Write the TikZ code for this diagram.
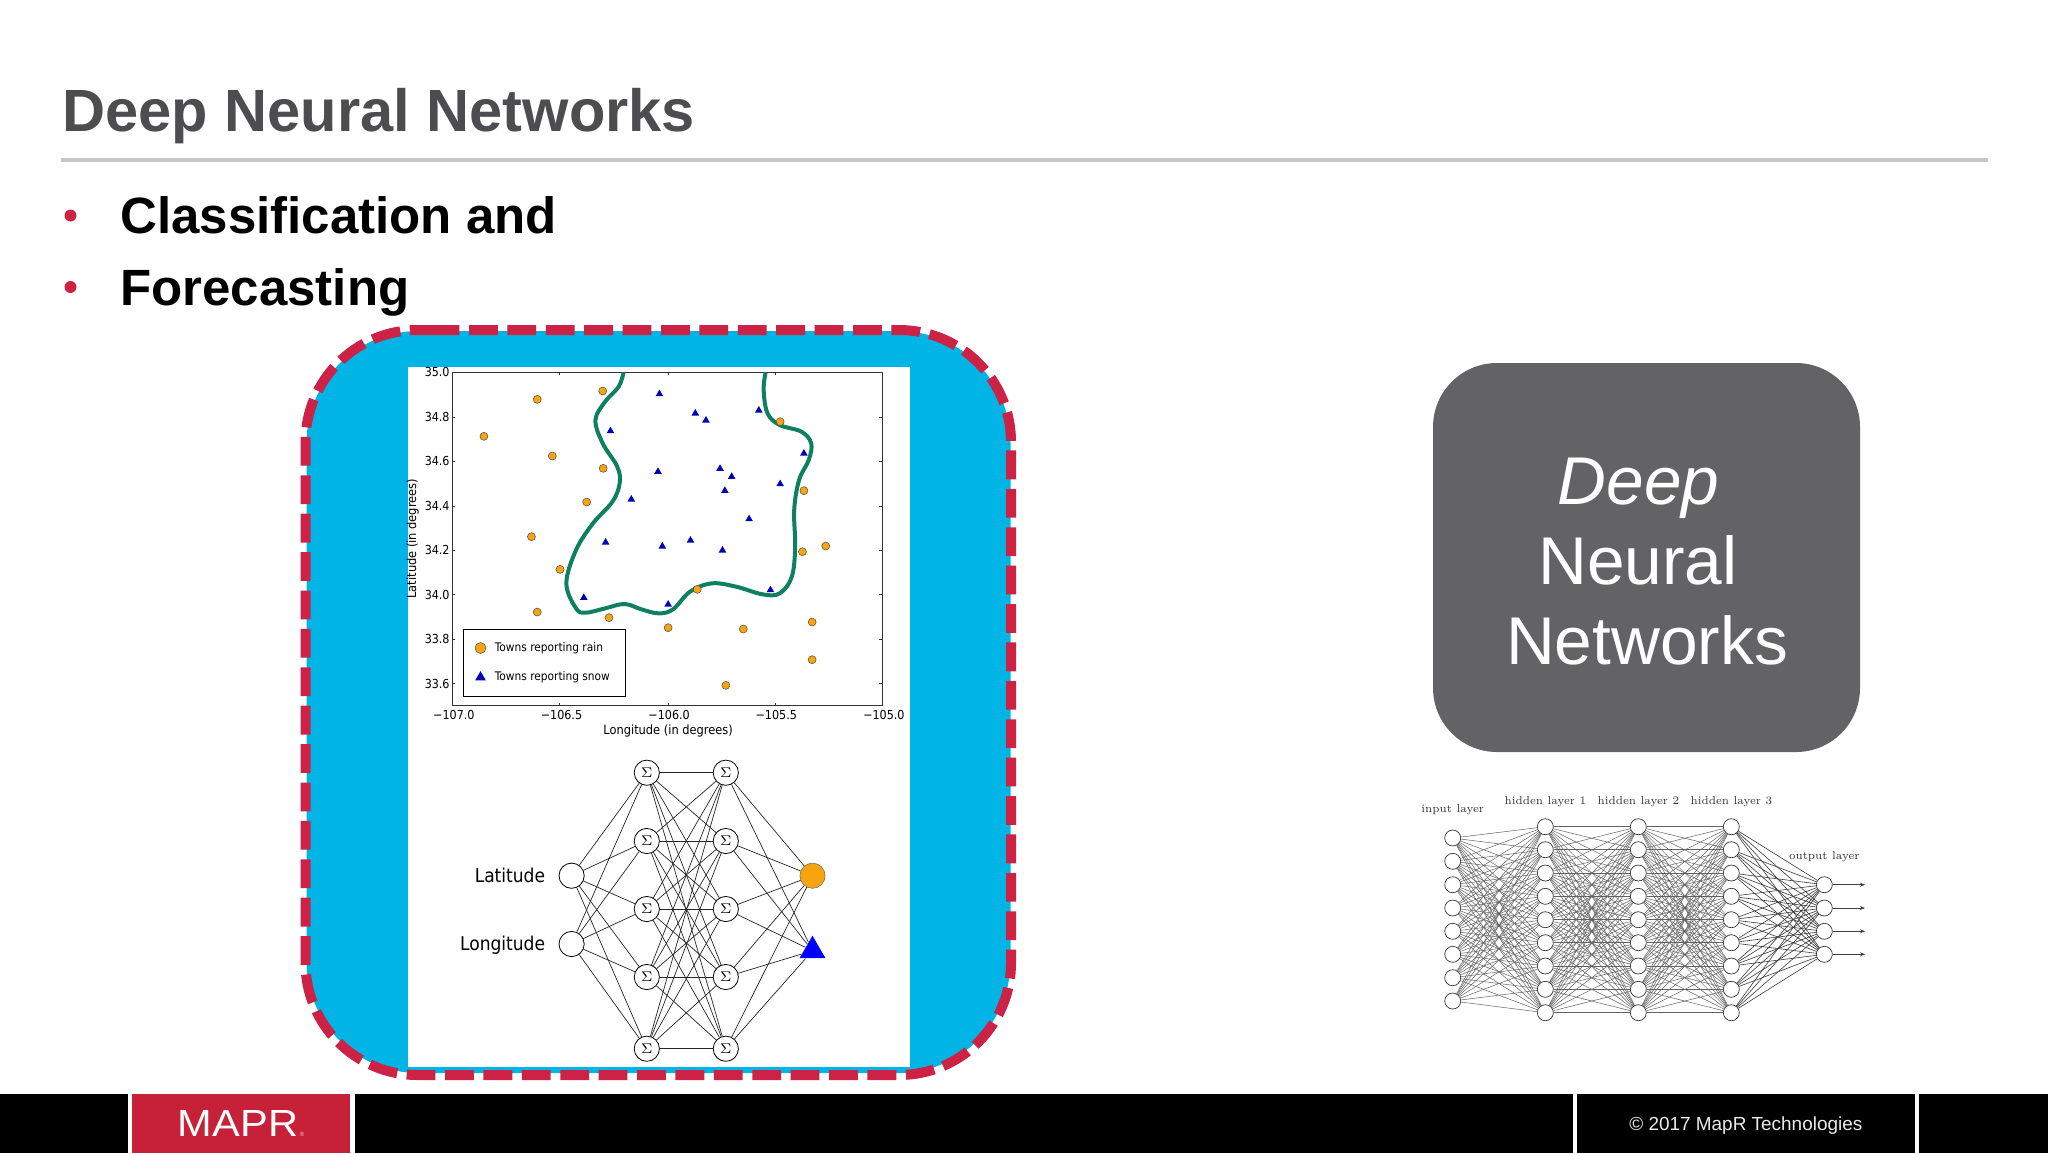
\documentclass[tikz,border=0pt]{standalone}
\usepackage{fontspec}
\usetikzlibrary{shapes.geometric,arrows.meta}
\newfontfamily\slidefont{Liberation Sans}
\newfontfamily\plotfont{DejaVu Sans Condensed}
\definecolor{maprred}{HTML}{C62138}
\definecolor{dashred}{HTML}{CC2245}
\definecolor{panelblue}{HTML}{00B5E6}
\definecolor{boxgray}{HTML}{636365}
\definecolor{titlegray}{HTML}{4D4D4F}
\definecolor{rainorange}{HTML}{F6A40F}
\definecolor{snowblue}{HTML}{0000B4}
\definecolor{curvegreen}{HTML}{0E8060}
\begin{document}
\begin{tikzpicture}[x=0.5pt, y=-0.5pt,
      title/.style={anchor=base west, inner sep=0pt, text=titlegray, font=\slidefont\bfseries\fontsize{29.8pt}{32pt}\selectfont},
      bullettext/.style={anchor=base west, inner sep=0pt, font=\slidefont\bfseries\fontsize{25.5pt}{28pt}\selectfont},
      bulletdot/.style={circle, fill=dashred, inner sep=0pt, minimum size=6pt},
      bigword/.style={inner sep=0pt, text=white, font=\slidefont\fontsize{33.8pt}{36pt}\selectfont},
      graybox/.style={rectangle, fill=boxgray, rounded corners=32pt, minimum width=213.5pt, minimum height=194.5pt},
      tick/.style={black!80, line width=0.35pt},
      ticklabel/.style={inner sep=0pt, font=\plotfont\fontsize{6.2pt}{7pt}\selectfont},
      axislabel/.style={inner sep=0pt, font=\plotfont\fontsize{6.35pt}{7pt}\selectfont},
      keylabel/.style={anchor=west, inner sep=0pt, font=\plotfont\fontsize{5.9pt}{7pt}\selectfont},
      rainmark/.style={circle, fill=rainorange, draw=black!70, line width=0.25pt, inner sep=0pt, minimum size=4pt},
      snowmark/.style={regular polygon, regular polygon sides=3, fill=snowblue, inner sep=0pt, minimum size=4.4pt},
      sumunit/.style={circle, draw=black, line width=0.4pt, inner sep=0pt, minimum size=12.6pt, font=\fontsize{7pt}{8pt}\selectfont},
      netlabel/.style={anchor=east, inner sep=0pt, font=\plotfont\fontsize{9.5pt}{11pt}\selectfont},
      netedge/.style={black!85, line width=0.35pt},
      unit/.style={circle, draw=black!80, line width=0.35pt, inner sep=0pt, minimum size=8pt},
      layerlabel/.style={inner sep=0pt, xscale=0.94, text=black!80, font=\fontsize{5.7pt}{7pt}\selectfont},
      thinedge/.style={black!62, line width=0.25pt},
      darkedge/.style={black!78, line width=0.3pt},
      footerbox/.style={anchor=north west, inner sep=0pt, minimum height=29.5pt}
  ]
    \useasboundingbox (0,0) rectangle (2048,1153);

    \node[title] (heading) at (62,131) {Deep Neural Networks};
    \draw[line width=2pt, black!22] (61,160) -- (1988,160);
    \node[bulletdot] (dota) at (70.5,215.5) {};
    \node[bulletdot] (dotb) at (70.5,287) {};
    \node[bullettext] (classify) at (120,233) {Classification and};
    \node[bullettext] (forecast) at (120,305) {Forecasting};

    \node[rectangle, fill=panelblue, rounded corners=56pt, minimum width=352pt, minimum height=371pt] (panel) at (658.5,702) {};
    \node[rectangle, fill=white, minimum width=251pt, minimum height=350pt] (sheet) at (659,717) {};
    \draw[dashred, line width=5pt, rounded corners=56pt, dash pattern=on 14.4pt off 4.8pt] (430.6,330) -- (1011,330) -- (1011,1075) -- (305.5,1075) -- (305.5,330) -- (430.6,330);

    \begin{scope}[shift={(290,320)}, x=0.2424pt, y=-0.16667pt]
      \draw[black!80, line width=0.4pt] (334,157) rectangle (1222,1157);
      \foreach \x in {556,780,1002} {
        \draw[tick] (\x,157) -- ++(0,9);
        \draw[tick] (\x,1157) -- ++(0,-9);
      }
      \foreach \y in {291,424,558,691,824,957,1091} {
        \draw[tick] (334,\y) -- ++(7,0);
        \draw[tick] (1222,\y) -- ++(-7,0);
      }
      \foreach \x/\t [count=\i] in {338/−107.0,560/−106.5,782/−106.0,1003/−105.5,1225/−105.0} {
        \node[ticklabel] (lon\i) at (\x,1185) {\t};
      }
      \foreach \y/\t [count=\i] in {157/35.0,291/34.8,424/34.6,558/34.4,691/34.2,824/34.0,957/33.8,1091/33.6} {
        \node[ticklabel, anchor=east] (lat\i) at (330,\y) {\t};
      }
      \node[axislabel] (lonlabel) at (780,1233) {Longitude (in degrees)};
      \node[axislabel, rotate=90] (latlabel) at (253,656) {Latitude (in degrees)};

      \draw[curvegreen, line width=2pt] plot[smooth, tension=0.6] coordinates {(688,157) (678,200) (650,245) (630,300) (645,370) (675,440) (680,490) (665,545) (625,610) (590,690) (570,790) (590,865) (610,878) (650,865) (690,852) (725,868) (760,880) (790,868) (825,815) (870,790) (920,800) (975,823) (1010,820) (1035,770) (1042,680) (1040,570) (1050,480) (1070,420) (1075,370) (1055,335) (1010,315) (985,280) (977,210) (981,157)};

      \foreach \x/\y [count=\i] in {645/213,510/238,400/349,541/408,646/445,612/546,498/650,557/748,510/876,658/893,780/923,840/808,935/927,1077/906,1077/1019,899/1096,1105/678,1057/695,1060/512,1011/305} {
        \node[rainmark] (rain\i) at (\x,\y) {};
      }
      \foreach \x/\y [count=\i] in {762/222,836/280,858/301,967/271,661/333,1060/400,759/455,887/446,911/470,897/512,1011/492,704/538,947/597,651/667,768/679,826/661,892/691,606/833,780/853,991/810} {
        \node[snowmark] (snow\i) at (\x,\y) {};
      }

      \draw[black, line width=0.5pt, fill=white] (357,928) rectangle (692,1128);
      \node[rainmark, minimum size=5.5pt] (rainkey) at (393,984) {};
      \node[snowmark, minimum size=6.2pt] (snowkey) at (393,1072) {};
      \node[keylabel] (raintext) at (422,984) {Towns reporting rain};
      \node[keylabel] (snowtext) at (422,1073) {Towns reporting snow};
    \end{scope}

    \foreach \n/\y in {1/875.7,2/944} {
      \node[sumunit] (in\n) at (571.6,\y) {};
    }
    \foreach \n/\y in {1/772.7,2/841,3/909,4/977,5/1048.7} {
      \node[sumunit] (sa\n) at (646.8,\y) {$\Sigma$};
      \node[sumunit] (sb\n) at (725.8,\y) {$\Sigma$};
    }
    \node[circle, fill=rainorange, draw=black!60, line width=0.25pt, inner sep=0pt, minimum size=12.6pt] (outrain) at (812.5,875.7) {};
    \node[regular polygon, regular polygon sides=3, fill=blue, inner sep=0pt, minimum size=15pt] (outsnow) at (812.5,950.7) {};
    \node[netlabel] (latname) at (545.5,875.7) {Latitude};
    \node[netlabel] (lonname) at (545.5,945) {Longitude};
    \foreach \i in {1,...,5} {
      \foreach \j in {1,2} {
        \draw[netedge] (in\j) -- (sa\i);
      }
      \foreach \j in {1,...,5} {
        \draw[netedge] (sa\i) -- (sb\j);
      }
      \draw[netedge] (sb\i) -- (outrain);
      \draw[netedge] (sb\i) -- (outsnow);
    }

    \node[graybox] (deepbox) at (1646.5,557.5) {};
    \node[bigword, font=\slidefont\itshape\fontsize{33.8pt}{36pt}\selectfont] (deepword) at (1638.4,488) {Deep};
    \node[bigword] (neuralword) at (1638,560) {Neural};
    \node[bigword] (networksword) at (1647,640.5) {Networks};

    \foreach \n/\y in {1/838,2/861.3,3/884.7,4/908,5/931.3,6/954.3,7/977.7,8/1001} {
      \node[unit] (ia\n) at (1452.7,\y) {};
    }
    \foreach \n/\y in {1/826.7,2/849.7,3/873,4/896.3,5/919.7,6/942.7,7/966,8/989.3,9/1012.7} {
      \node[unit] (ha\n) at (1545.3,\y) {};
      \node[unit] (hb\n) at (1638.3,\y) {};
      \node[unit] (hc\n) at (1731.3,\y) {};
    }
    \foreach \n/\y in {1/884.7,2/908,3/931.3,4/954.3} {
      \node[unit] (op\n) at (1824.3,\y) {};
      \coordinate (end\n) at (1865,\y);
      \draw[black!75, line width=0.35pt, -{Stealth[length=2.5pt,width=2pt]}] (op\n) -- (end\n);
    }
    \foreach \i in {1,...,9} {
      \foreach \j in {1,...,8} {
        \draw[thinedge] (ia\j) -- (ha\i);
      }
      \foreach \j in {1,...,9} {
        \draw[thinedge] (ha\i) -- (hb\j);
        \draw[thinedge] (hb\i) -- (hc\j);
      }
      \foreach \j in {1,...,4} {
        \draw[darkedge] (hc\i) -- (op\j);
      }
    }
    \node[layerlabel] (inputname) at (1452.7,810) {input layer};
    \node[layerlabel] (hiddena) at (1545.3,801.5) {hidden layer 1};
    \node[layerlabel] (hiddenb) at (1638.3,801.5) {hidden layer 2};
    \node[layerlabel] (hiddenc) at (1731.3,801.5) {hidden layer 3};
    \node[layerlabel] (outputname) at (1824.3,857) {output layer};

    \node[footerbox, fill=black, minimum width=63.6pt] (barone) at (0,1094) {};
    \node[footerbox, fill=maprred, minimum width=109.1pt] (logobox) at (131.7,1094) {};
    \node[footerbox, fill=black, minimum width=609pt] (bartwo) at (354.7,1094) {};
    \node[footerbox, fill=black, minimum width=169.4pt] (barthree) at (1576.2,1094) {};
    \node[footerbox, fill=black, minimum width=64.7pt] (barfour) at (1918.7,1094) {};
    \node[inner sep=0pt, text=white, xscale=1.1, font=\slidefont\fontsize{18.9pt}{20pt}\selectfont] (logotext) at (238,1123.5) {MAPR};
    \node[inner sep=0pt, text=white!75!maprred, font=\slidefont\fontsize{3pt}{4pt}\selectfont] (logomark) at (302,1134.5) {®};
    \node[inner sep=0pt, text=black!8, font=\slidefont\fontsize{9.47pt}{11pt}\selectfont] (copyright) at (1745.8,1125.5) {© 2017 MapR Technologies};
  \end{tikzpicture}
\end{document}
